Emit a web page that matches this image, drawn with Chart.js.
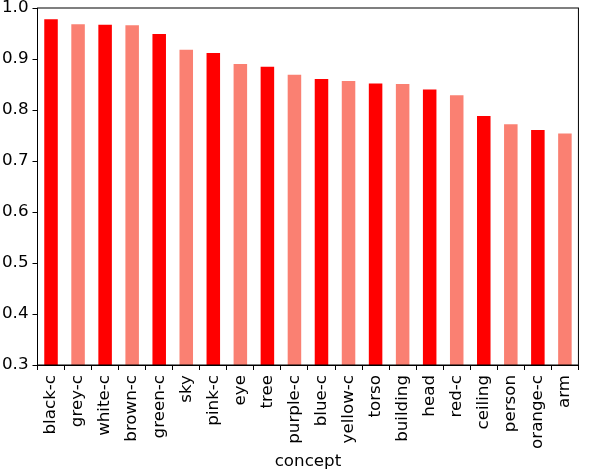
<!DOCTYPE html>
<html>
<head>
<meta charset="utf-8">
<script src="https://cdn.jsdelivr.net/npm/chart.js@4"></script>
<style>
  html, body { margin: 0; padding: 0; background: #fff; }
  #wrap { width: 590px; height: 474px; }
</style>
</head>
<body>
<div id="wrap"><canvas id="chart" width="590" height="474"></canvas></div>
<script>
const concepts = ['black-c', 'grey-c', 'white-c', 'brown-c', 'green-c', 'sky', 'pink-c', 'eye', 'tree', 'purple-c',
                  'blue-c', 'yellow-c', 'torso', 'building', 'head', 'red-c', 'ceiling', 'person', 'orange-c', 'arm'];
const scores = [0.978, 0.968, 0.967, 0.966, 0.949, 0.918, 0.912, 0.890, 0.885, 0.869,
                0.861, 0.857, 0.852, 0.851, 0.840, 0.829, 0.788, 0.772, 0.761, 0.754];
const barColors = ['#ff0000', '#fa8072'];

// frame round the plot area (top and right spines)
const frame = {
    id: 'frame',
    afterDatasetsDraw(chart) {
        const a = chart.chartArea, c = chart.ctx;
        c.save();
        c.strokeStyle = '#000';
        c.lineWidth = 1;
        c.strokeRect(a.left, a.top, a.right - a.left, a.bottom - a.top);
        c.restore();
    }
};

Chart.defaults.font.family = 'DejaVu Sans';
Chart.defaults.color = '#000';

new Chart(document.getElementById('chart').getContext('2d'), {
    type: 'bar',
    data: {
        labels: concepts,
        datasets: [{
            data: scores,
            backgroundColor: concepts.map((c, i) => barColors[i % 2]),
            barPercentage: 0.5,
            categoryPercentage: 1.0
        }]
    },
    options: {
        responsive: false,
        animation: false,
        layout: { padding: { top: 0, right: 2, left: 0, bottom: 0 } },
        plugins: { legend: { display: false }, tooltip: { enabled: false } },
        scales: {
            x: {
                grid: { drawOnChartArea: false, drawTicks: true, tickLength: 5, color: '#000' },
                border: { display: true, color: '#000' },
                ticks: { font: { size: 16.7 }, maxRotation: 90, minRotation: 90, padding: 5, autoSkip: false },
                title: { display: true, text: 'concept', font: { size: 16.7 }, padding: { top: 4, bottom: 2 } },
                afterFit(scale) { scale.height = 109; }
            },
            y: {
                min: 0.3,
                max: 1.0,
                grid: { drawOnChartArea: false, drawTicks: true, tickLength: 5, color: '#000' },
                border: { display: true, color: '#000' },
                ticks: { stepSize: 0.1, font: { size: 16.7 }, padding: 4, callback: v => v.toFixed(1) },
                afterFit(scale) {
                    scale.width = 37.5;
                    scale.paddingTop = 8;
                    scale.paddingBottom = 0;
                }
            }
        }
    },
    plugins: [frame]
});
</script>
</body>
</html>
